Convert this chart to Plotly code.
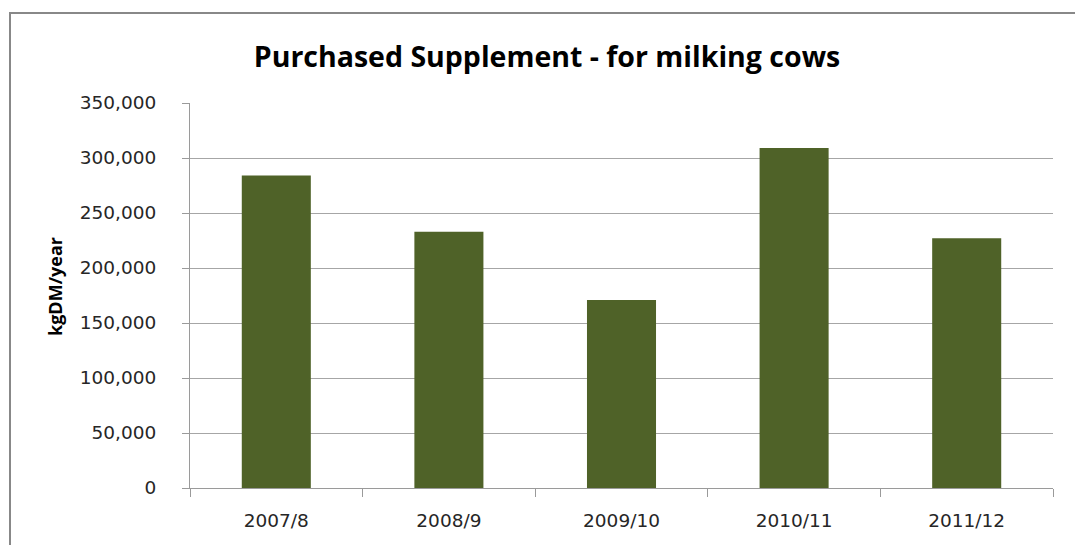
import plotly.graph_objects as go

categories = ["2007/8", "2008/9", "2009/10", "2010/11", "2011/12"]
values = [284000, 233000, 171000, 309000, 227000]
y_ticks = [0, 50000, 100000, 150000, 200000, 250000, 300000, 350000]
y_tick_labels = ["0", "50,000", "100,000", "150,000", "200,000", "250,000", "300,000", "350,000"]

W, H = 1075, 545
L, R, T, B = 190, 22, 103, 57
pw, ph = W - L - R, H - T - B

tick_font = "'DejaVu Sans', Verdana, sans-serif"
title_font = "'Open Sans', sans-serif"

fig = go.Figure(go.Bar(x=categories, y=values, marker=dict(color="#4F6228", line=dict(width=0))))

fig.update_layout(
    width=W, height=H,
    margin=dict(l=L, r=R, t=T, b=B),
    paper_bgcolor="white", plot_bgcolor="white",
    bargap=0.6,
    showlegend=False,
    font=dict(family=tick_font, color="#262626"),
    title=dict(text="<b>Purchased Supplement - for milking cows</b>",
               x=547 / W, xanchor="center", y=1 - 57 / H, yanchor="middle",
               font=dict(size=28.5, color="black", family=title_font)),
)
fig.update_xaxes(
    type="category", tickson="boundaries", ticks="outside", ticklen=8, tickcolor="#9A9A9A",
    showline=True, linecolor="#9A9A9A", linewidth=1, showgrid=False,
    ticklabelstandoff=16,
    tickfont=dict(size=18.5, color="#262626", family=tick_font),
)
fig.update_yaxes(
    range=[0, 350000], tickvals=y_ticks, ticktext=y_tick_labels,
    ticks="outside", ticklen=7, tickcolor="#9A9A9A",
    showline=True, linecolor="#9A9A9A", linewidth=1,
    showgrid=True, gridcolor="#A6A6A6", gridwidth=1, zeroline=False,
    ticklabelstandoff=22,
    tickfont=dict(size=18.5, color="#262626", family=tick_font),
)
fig.add_annotation(text="<b>kgDM/year</b>", textangle=-90, xref="paper", yref="paper",
                   x=(55 - L) / pw, y=(H - B - 287) / ph, xanchor="center", yanchor="middle", showarrow=False,
                   font=dict(size=18, color="black", family=title_font))
fig.add_shape(type="rect", xref="paper", yref="paper",
              x0=(10 - L) / pw, x1=1.2, y0=-0.5, y1=(H - B - 13) / ph,
              line=dict(color="#888888", width=2), fillcolor="rgba(0,0,0,0)", layer="below")

fig.write_html("out.html", config={"displayModeBar": False},
               post_script="document.body.style.margin='0';")
